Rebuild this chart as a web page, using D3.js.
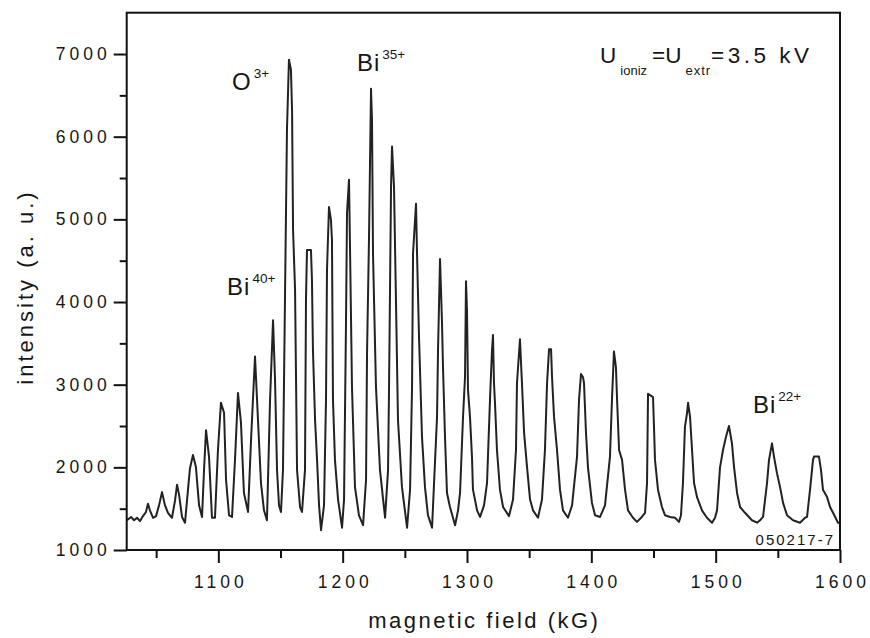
<!DOCTYPE html>
<html>
<head>
<meta charset="utf-8">
<title>Bi charge state spectrum</title>
<script src="https://cdn.jsdelivr.net/npm/d3@7"></script>
<style>
  body { margin: 0; background: #fff; }
  text { font-family: "Liberation Sans", Arial, Helvetica, sans-serif; fill: #161616; }
</style>
</head>
<body>
<script>
// spectrum: magnetic field (kG) and intensity (a. u.)
var field = [
  1026.5,1029.8,1032.2,1034.6,1037.0,1039.4,1041.8,1043.4,1045.0,1047.5,1049.9,1052.3,1054.7,1057.1,1059.5,
  1062.7,1065.2,1066.8,1068.4,1070.8,1073.2,1075.6,1077.2,1079.6,1082.0,1084.5,1086.9,1088.5,1090.1,1092.5,
  1094.9,1097.3,1099.7,1102.1,1104.6,1106.2,1108.6,1111.0,1113.4,1115.8,1118.2,1120.6,1123.9,1126.3,1129.5,
  1131.9,1134.3,1136.7,1139.1,1141.6,1144.0,1145.6,1147.2,1148.8,1150.4,1152.0,1153.6,1155.2,1156.8,1158.4,
  1159.3,1160.1,1161.7,1163.3,1165.7,1167.3,1169.7,1170.5,1171.3,1174.5,1175.3,1176.1,1177.8,1179.4,1181.0,
  1182.6,1185.0,1186.6,1187.4,1189.0,1190.6,1191.4,1192.2,1193.8,1196.3,1199.5,1201.1,1202.7,1203.5,1205.1,
  1205.9,1207.5,1209.9,1213.1,1216.4,1218.8,1219.6,1221.2,1222.8,1223.6,1224.4,1226.8,1230.0,1234.1,1236.5,
  1237.3,1238.9,1239.7,1241.3,1242.9,1244.5,1247.7,1251.8,1254.2,1255.8,1256.6,1259.0,1259.8,1261.4,1263.8,
  1266.2,1268.6,1271.9,1273.5,1275.9,1276.7,1278.3,1279.9,1280.7,1282.3,1283.9,1286.3,1290.4,1292.8,1294.4,
  1296.8,1298.4,1299.2,1300.0,1300.8,1302.4,1304.0,1304.8,1308.1,1310.5,1313.7,1316.1,1318.5,1320.1,1320.9,
  1321.7,1322.5,1324.1,1326.5,1329.0,1333.8,1337.0,1339.4,1340.2,1342.6,1344.2,1345.9,1348.3,1350.7,1353.1,
  1357.1,1360.3,1362.7,1364.4,1366.0,1367.6,1368.4,1370.0,1372.4,1374.8,1377.2,1381.2,1384.5,1388.5,1390.1,
  1391.7,1393.3,1394.1,1395.7,1397.3,1400.5,1403.0,1407.0,1411.0,1415.0,1416.6,1418.2,1419.8,1420.7,1422.3,
  1424.7,1427.1,1429.5,1433.5,1436.7,1440.0,1443.2,1444.8,1445.6,1449.6,1450.4,1451.2,1453.6,1456.8,1459.3,
  1463.3,1467.3,1470.5,1472.1,1473.7,1475.3,1477.0,1477.8,1479.4,1481.0,1482.6,1485.0,1489.0,1493.0,1497.1,
  1499.5,1501.1,1503.5,1505.9,1508.3,1510.7,1513.1,1514.8,1517.2,1519.6,1523.6,1529.2,1533.3,1535.7,1538.1,
  1541.3,1542.9,1545.3,1546.9,1549.3,1551.8,1554.2,1557.4,1562.2,1567.8,1571.9,1573.5,1575.9,1578.3,1579.1,
  1583.1,1584.7,1586.3,1589.6,1592.0,1594.4,1598.4,1600.0
];
var intensity = [
  1360,1400,1360,1390,1350,1410,1460,1560,1480,1390,1410,1540,1700,1540,1450,
  1390,1600,1790,1670,1400,1330,1730,1990,2150,2000,1540,1400,1970,2450,2130,
  1390,1390,2210,2780,2660,1850,1420,1400,2090,2900,2540,1690,1460,2330,3340,
  2570,1810,1480,1360,2820,3780,3060,1970,1540,1460,1970,4030,6080,6930,6810,
  6320,4870,4150,1970,1520,1460,1970,4030,4630,4630,4270,3420,2570,2090,1540,
  1240,1540,2820,4390,5150,4990,4750,2820,2090,1610,1270,1610,3780,5080,5480,
  4670,2970,1760,1420,1300,1850,3380,4790,6580,6200,4590,2970,1970,1390,1970,
  2970,5390,5880,5390,3990,2570,1760,1270,1730,2970,4590,5190,4590,3580,2370,
  1760,1420,1270,1810,2610,3420,4520,3750,3210,2370,1690,1520,1300,1480,1690,
  2610,3090,4250,3900,2940,2610,2130,1730,1480,1400,1540,1810,2820,3420,3600,
  3020,2780,2210,1730,1520,1410,1610,2210,3020,3550,3020,2420,2000,1610,1480,
  1390,1610,2210,3020,3430,3430,3090,2610,2210,1730,1480,1390,1540,2130,2820,
  3130,3090,3020,2420,2000,1570,1420,1400,1540,2130,2820,3400,3210,2820,2210,
  2090,1730,1480,1390,1340,1390,1450,1810,2890,2850,2490,2090,1730,1520,1420,
  1400,1390,1340,1420,1810,2490,2660,2780,2610,2210,1810,1640,1480,1390,1330,
  1390,1480,2000,2210,2370,2500,2290,2000,1690,1520,1450,1360,1330,1360,1400,
  1810,2090,2290,2130,1930,1760,1570,1420,1360,1330,1390,1400,1730,2090,2130,
  2130,1970,1730,1640,1520,1450,1330,1330
];

var xMajor = [1100, 1200, 1300, 1400, 1500, 1600];
var xMinor = [1050, 1150, 1250, 1350, 1450, 1550];
var yMajor = [1000, 2000, 3000, 4000, 5000, 6000, 7000];
var yMinor = [1500, 2500, 3500, 4500, 5500, 6500];

var ionNames   = ["O", "Bi", "Bi", "Bi"];
var ionCharges = ["3+", "35+", "40+", "22+"];
var runId = "050217-7";

var W = 870, H = 638;
var mLeft = 126.7, mTop = 12.7, mRight = 840, mBottom = 550;
var font = "'Liberation Sans', Arial, Helvetica, sans-serif";

var x = d3.scaleLinear().domain([1026.3, 1600]).range([mLeft, mRight]);
var y = d3.scaleLinear().domain([1000, 7500]).range([mBottom, mTop]);

var svg = d3.select("body").append("svg")
    .attr("width", W)
    .attr("height", H);

svg.append("clipPath").attr("id", "plot")
  .append("rect")
    .attr("x", mLeft).attr("y", mTop)
    .attr("width", mRight - mLeft).attr("height", mBottom - mTop);

// the trace
var line = d3.line()
    .x(function(d){ return x(d[0]); })
    .y(function(d){ return y(d[1]); });

svg.append("path")
    .datum(d3.zip(field, intensity))
    .attr("clip-path", "url(#plot)")
    .attr("fill", "none")
    .attr("stroke", "#222")
    .attr("stroke-width", 2)
    .attr("stroke-linejoin", "round")
    .attr("d", line);

// axes
function styleAxis(g){
    g.attr("font-family", font);
    g.select(".domain").remove();
    g.selectAll("line").attr("stroke", "#111").attr("stroke-width", 2);
}

svg.append("g")
    .attr("transform", "translate(0," + mBottom + ")")
    .call(d3.axisBottom(x).tickValues(xMinor).tickSize(8).tickFormat(""))
    .call(styleAxis);

var gx = svg.append("g")
    .attr("transform", "translate(0," + mBottom + ")")
    .call(d3.axisBottom(x).tickValues(xMajor).tickSize(13).tickPadding(13).tickFormat(d3.format("d")))
    .call(styleAxis);
gx.selectAll("text")
    .attr("font-size", 17.5)
    .attr("letter-spacing", 4)
    .attr("dx", 2)
    .attr("fill", "#161616");

svg.append("g")
    .attr("transform", "translate(" + mLeft + ",0)")
    .call(d3.axisLeft(y).tickValues(yMinor).tickSize(7).tickFormat(""))
    .call(styleAxis);

var gy = svg.append("g")
    .attr("transform", "translate(" + mLeft + ",0)")
    .call(d3.axisLeft(y).tickValues(yMajor).tickSize(13).tickPadding(3).tickFormat(d3.format("d")))
    .call(styleAxis);
gy.selectAll("text")
    .attr("font-size", 17.5)
    .attr("letter-spacing", 4)
    .attr("fill", "#161616");

// frame
svg.append("rect")
    .attr("x", mLeft).attr("y", mTop)
    .attr("width", mRight - mLeft).attr("height", mBottom - mTop)
    .attr("fill", "none")
    .attr("stroke", "#111")
    .attr("stroke-width", 2);

// axis titles
svg.append("text")
    .attr("x", (mLeft + mRight) / 2 + 1)
    .attr("y", 628)
    .attr("text-anchor", "middle")
    .attr("font-size", 22)
    .attr("letter-spacing", 2.5)
    .text("magnetic field (kG)");

svg.append("text")
    .attr("transform", "translate(33,287) rotate(-90)")
    .attr("text-anchor", "middle")
    .attr("font-size", 22)
    .attr("letter-spacing", 3)
    .text("intensity (a. u.)");

// peak labels, anchored in data coordinates
var ionAt = [[1111.0, 6566], [1211.5, 6796], [1107.0, 4086], [1530.0, 2658]];
ionNames.forEach(function(name, i){
    var t = svg.append("text")
        .attr("x", x(ionAt[i][0]))
        .attr("y", y(ionAt[i][1]))
        .attr("font-size", 24);
    t.append("tspan").attr("letter-spacing", 1).text(name);
    t.append("tspan")
        .attr("font-size", 13.5)
        .attr("dx", 2)
        .attr("dy", -12)
        .text(ionCharges[i]);
});

// source voltage note
var u = svg.append("text")
    .attr("x", x(1407.0))
    .attr("y", y(6893))
    .attr("font-size", 22.5);
u.append("tspan").text("U");
u.append("tspan").attr("font-size", 13).attr("dx", 4).attr("dy", 12).text("ioniz");
u.append("tspan").attr("dx", 5).attr("dy", -12).text("=U");
u.append("tspan").attr("font-size", 13).attr("dx", 4).attr("dy", 12).attr("letter-spacing", 1).text("extr");
u.append("tspan").attr("dx", 0).attr("dy", -12).attr("letter-spacing", 3.5).text("=3.5 kV");

svg.append("text")
    .attr("x", mRight - 5)
    .attr("y", mBottom - 5)
    .attr("text-anchor", "end")
    .attr("font-size", 15)
    .attr("letter-spacing", 2)
    .text(runId);
</script>
</body>
</html>
